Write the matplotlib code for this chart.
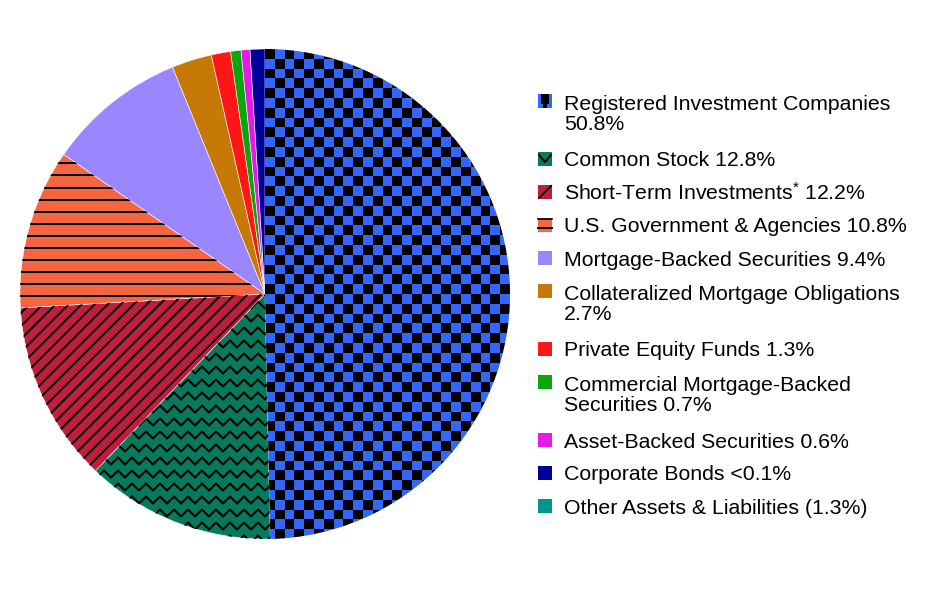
import numpy as np
import matplotlib
matplotlib.use('Agg')
import matplotlib.pyplot as plt
from matplotlib.colors import ListedColormap
from matplotlib.patches import Rectangle

plt.rcParams['font.family'] = ['Liberation Sans', 'DejaVu Sans']
plt.rcParams['mathtext.fontset'] = 'custom'
plt.rcParams['mathtext.rm'] = 'Liberation Sans'
plt.rcParams['mathtext.it'] = 'Liberation Sans'

# portfolio allocation (legend text as printed, slice sizes as drawn)
legend_labels = [
    'Registered Investment Companies\n50.8%',
    'Common Stock 12.8%',
    r'Short-Term Investments$^{*}$ 12.2%',
    'U.S. Government & Agencies 10.8%',
    'Mortgage-Backed Securities 9.4%',
    'Collateralized Mortgage Obligations\n2.7%',
    'Private Equity Funds 1.3%',
    'Commercial Mortgage-Backed\nSecurities 0.7%',
    'Asset-Backed Securities 0.6%',
    'Corporate Bonds <0.1%',
    'Other Assets & Liabilities (1.3%)',
]
slice_values = [50.8, 12.8, 12.2, 10.8, 9.4, 2.7, 1.3, 0.7, 0.6, 1.0]
colors = ['#3366FF', '#067A5A', '#C01E3E', '#F4663F', '#9A86FF', '#C67A05',
          '#FF1616', '#0AA60A', '#E619E6', '#000099', '#00968F']
patterns = ['checker', 'zigzag', 'diag', 'hline', None, None, None, None, None, None, None]

W, H = 948, 600
fig = plt.figure(figsize=(W / 100, H / 100), dpi=100)

cx, cy, R = 265, 294, 245
ax = fig.add_axes([(cx - R) / W, (H - cy - R) / H, 2 * R / W, 2 * R / H])

wedges, _ = ax.pie(slice_values, colors=colors[:len(slice_values)], startangle=90,
                   counterclock=False, radius=1,
                   wedgeprops=dict(edgecolor='white', linewidth=0.4))

px = 1.0 / R  # one pixel in data units

# checkerboard pattern
n = 50
board = (np.add.outer(np.arange(n), np.arange(n)) % 2)
im = ax.imshow(board, cmap=ListedColormap(['#3366FF', 'black']), extent=(-1, 1, -1, 1),
               interpolation='nearest', zorder=2)
im.set_clip_path(wedges[0])

# zigzag pattern
xs = np.arange(-1, 1 + 7 * px, 7 * px)
for yy in np.arange(-1, 1, 13 * px):
    zz = yy + np.where(np.arange(len(xs)) % 2 == 0, 3.5 * px, -3.5 * px)
    ln, = ax.plot(xs, zz, color='black', lw=1.5, zorder=2)
    ln.set_clip_path(wedges[1])

# diagonal lines
for c in np.arange(-2, 2, 13 * px):
    ln, = ax.plot([-1, 1], [-1 + c, 1 + c], color='black', lw=1.4, zorder=2)
    ln.set_clip_path(wedges[2])

# horizontal lines
for yp in np.arange(163.3 - 12.1 * 10, 163.3 + 12.1 * 30, 12.1):
    y = (cy - yp) / R
    ln, = ax.plot([-1, 1], [y, y], color='black', lw=1.4, zorder=2)
    ln.set_clip_path(wedges[3])

ax.set_xlim(-1, 1)
ax.set_ylim(-1, 1)
ax.set_aspect('equal')
ax.axis('off')

# legend drawn in pixel coordinates
lax = fig.add_axes([0, 0, 1, 1])
lax.set_xlim(0, W)
lax.set_ylim(H, 0)
lax.axis('off')

line_h = 21.5
y = 101
for lab, col, pat in zip(legend_labels, colors, patterns):
    x0, s = 538, 14
    lax.add_patch(Rectangle((x0, y - s / 2), s, s, facecolor=col, edgecolor='none'))
    if pat == 'checker':
        lax.add_patch(Rectangle((x0 + 3, y - s / 2), 8, 10, facecolor='black', edgecolor='none'))
        lax.add_patch(Rectangle((x0 + 5, y + 3), 4, 4, facecolor='black', edgecolor='none'))
    elif pat == 'zigzag':
        lax.plot([x0 + 1, x0 + 7, x0 + 13], [y - 4, y + 3, y - 4], color='black', lw=1.4)
    elif pat == 'diag':
        lax.plot([x0 + 1, x0 + 13], [y + 6, y - 6], color='black', lw=1.4)
    elif pat == 'hline':
        lax.plot([x0, x0 + s], [y - 6, y - 6], color='black', lw=1.2)
        lax.plot([x0, x0 + s], [y + 3, y + 3], color='black', lw=1.4)
    nlines = lab.count('\n') + 1
    # baseline alignment refers to the last line of a multi-line text
    lax.text(564, y + 7.5 + line_h * (nlines - 1), lab, fontsize=15.3, va='baseline',
             ha='left', linespacing=1.055, color='black')
    y += 33 + 25 * (nlines - 1)

fig.savefig('out.png', dpi=100, facecolor='white')
